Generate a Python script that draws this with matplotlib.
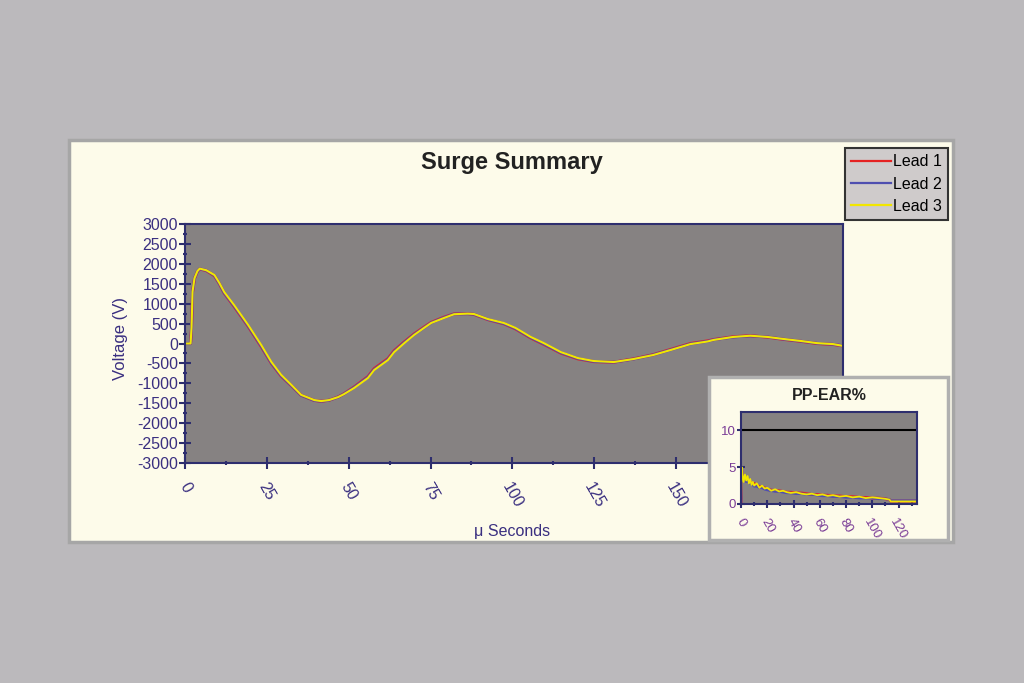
import numpy as np
import matplotlib
matplotlib.use("Agg")
import matplotlib.pyplot as plt
from matplotlib.patches import Rectangle
from matplotlib.lines import Line2D

plt.rcParams['font.family'] = ['Liberation Sans', 'DejaVu Sans']
plt.rcParams['axes.unicode_minus'] = False

# surge waveform, voltage per lead (V) vs time (us)
t_us = [0, 1.7, 2.0, 2.3, 2.9, 3.8, 4.5, 6.5, 9.0, 10.5,
        12.0, 15.0, 19.3, 23.3, 26.4, 29.4, 32.5, 35.5, 39.5, 41.6,
        44.0, 46.8, 48.6, 51.7, 53.8, 55.9, 57.8, 62.0, 63.9, 67.0,
        70.0, 73.0, 75.2, 79.1, 82.2, 86.4, 88.3, 92.5, 97.4, 101.0,
        105.6, 109.6, 114.8, 120.0, 124.9, 131.0, 137.0, 143.0, 148.3, 154.4,
        159.6, 161.5, 167.5, 172.7, 177.9, 182.7, 188.0, 193.0, 198.0, 201.0]
lead1 = [0, 0, 380, 1280, 1630, 1810, 1870, 1830, 1700, 1500,
         1260, 930, 430, -80, -500, -820, -1060, -1300, -1430, -1450,
         -1425, -1340, -1260, -1090, -960, -830, -630, -380, -180, 40,
         240, 410, 530, 660, 745, 750, 730, 600, 495, 365,
         140, -20, -240, -385, -455, -470, -385, -280, -150, 0,
         65, 100, 170, 195, 160, 105, 55, 0, -25, -60]
lead2 = [0, 0, 390, 1290, 1635, 1815, 1875, 1835, 1710, 1505,
         1270, 945, 445, -65, -490, -810, -1055, -1300, -1430, -1450,
         -1425, -1345, -1265, -1100, -975, -845, -650, -400, -200, 25,
         225, 395, 520, 650, 740, 745, 735, 605, 500, 375,
         150, -10, -230, -375, -450, -468, -392, -285, -160, -10,
         55, 95, 160, 190, 165, 110, 60, 5, -20, -55]
lead3 = [0, 0, 400, 1300, 1640, 1820, 1880, 1840, 1720, 1520,
         1290, 965, 465, -40, -465, -790, -1040, -1290, -1420, -1445,
         -1420, -1345, -1270, -1115, -990, -865, -665, -415, -215, 10,
         215, 390, 515, 640, 735, 750, 740, 615, 515, 390,
         165, 10, -215, -365, -440, -465, -390, -290, -165, -15,
         50, 90, 165, 195, 165, 115, 65, 10, -15, -60]

# PP-EAR% inset
t_ear = [0, 0.5, 1, 2, 3, 4, 5, 6, 7, 8,
         9, 10, 12, 14, 16, 18, 20, 23, 26, 29,
         32, 35, 38, 42, 46, 50, 54, 58, 62, 66,
         70, 75, 80, 85, 90, 95, 100, 105, 110, 113,
         114, 120, 126, 134]
ear1 = [0, 4.6, 3.9, 3.4, 3.6, 3.5, 3.3, 3.1, 3.0, 2.9,
        2.7, 2.8, 2.5, 2.4, 2.3, 2.2, 2.0, 1.9, 1.8, 1.8,
        1.7, 1.6, 1.6, 1.5, 1.5, 1.4, 1.3, 1.3, 1.2, 1.2,
        1.1, 1.1, 1.0, 1.0, 0.9, 0.9, 0.8, 0.8, 0.7, 0.6,
        0.4, 0.4, 0.4, 0.4]
ear2 = [0, 4.4, 4.0, 3.2, 3.4, 3.0, 3.2, 2.9, 2.8, 2.7,
        2.6, 2.4, 2.4, 2.2, 2.2, 2.0, 1.9, 1.8, 1.7, 1.7,
        1.6, 1.5, 1.5, 1.4, 1.4, 1.3, 1.3, 1.2, 1.1, 1.1,
        1.0, 1.0, 0.9, 0.9, 0.8, 0.8, 0.8, 0.7, 0.7, 0.6,
        0.45, 0.45, 0.45, 0.45]
ear3 = [0, 5.0, 4.2, 3.0, 4.0, 3.2, 3.8, 2.8, 3.4, 2.6,
        3.0, 2.5, 2.8, 2.2, 2.5, 2.1, 2.2, 1.8, 2.0, 1.7,
        1.8, 1.6, 1.5, 1.6, 1.4, 1.3, 1.4, 1.2, 1.3, 1.1,
        1.2, 1.0, 1.1, 0.9, 1.0, 0.8, 0.9, 0.8, 0.7, 0.6,
        0.35, 0.35, 0.35, 0.35]
ear_limit = 10

labels = ['Lead 1', 'Lead 2', 'Lead 3']
colors = ['#e52222', '#4f4fb0', '#f2e600']
widths = [2.2, 2.0, 1.5]

W, H = 1024, 683
navy = '#2e2e6e'
tickc = '#3a2f80'
inset_tickc = '#7a3c96'


def fx(x):
    return x / W


def fy(y):
    return 1 - y / H


fig = plt.figure(figsize=(10.24, 6.83), dpi=100)
fig.patch.set_facecolor('#bbb9bc')

# cream panel behind main chart
fig.patches.append(Rectangle((fx(69), fy(542)), fx(953 - 69), (542 - 140) / H,
                             transform=fig.transFigure, facecolor='#fdfbea',
                             edgecolor='#a6a6a6', lw=2.5, zorder=-1))

ax = fig.add_axes([fx(185), fy(463), fx(843 - 185), (463 - 224) / H])
ax.set_facecolor('#868282')
for ys, c, w in zip([lead1, lead2, lead3], colors, widths):
    ax.plot(t_us, ys, color=c, lw=w)
ax.set_xlim(0, 201)
ax.set_ylim(-3000, 3000)
ax.set_xticks(np.arange(0, 201, 25))
ax.set_xticks(np.arange(12.5, 201, 25), minor=True)
ax.set_yticks(np.arange(-3000, 3001, 500))
ax.set_yticks(np.arange(-2750, 3000, 500), minor=True)
for s in ax.spines.values():
    s.set_color(navy)
    s.set_linewidth(1.5)
ax.tick_params(which='major', direction='inout', length=8, width=1.5,
               color=navy, labelcolor=tickc, labelsize=11.5)
ax.tick_params(which='minor', direction='inout', length=3, width=1.5, color=navy)
ax.tick_params(axis='x', pad=8)
ax.tick_params(axis='y', pad=1)
for lbl in ax.get_xticklabels():
    lbl.set_rotation(-60)
    lbl.set_ha('center')
    lbl.set_va('top')
ax.set_ylabel('Voltage (V)', color=tickc, fontsize=12)
ax.yaxis.set_label_coords(-0.086, 0.52)
ax.set_xlabel('μ Seconds', color=tickc, fontsize=11.5)
ax.xaxis.set_label_coords(0.497, -0.255)

fig.text(fx(512), fy(163), 'Surge Summary', ha='center', va='center',
         fontsize=17, fontweight='bold', color='#222222')

handles = [Line2D([], [], color=c, lw=1.6) for c in colors]
leg = fig.legend(handles, labels, loc='upper right',
                 bbox_to_anchor=(fx(948), fy(148)), borderaxespad=0,
                 fontsize=11.5, handlelength=2.5, handletextpad=0.1,
                 labelspacing=0.45, fancybox=False, framealpha=1,
                 facecolor='#cfcbcb', edgecolor='#333333', borderpad=0.4)
leg.get_frame().set_linewidth(1.5)
leg.set_zorder(5)

# inset panel
fig.patches.append(Rectangle((fx(709), fy(540)), fx(948 - 709), (540 - 377) / H,
                             transform=fig.transFigure, facecolor='#fdfbea',
                             edgecolor='#b0b0b0', lw=2.5, zorder=1))
fig.text(fx(829), fy(395), 'PP-EAR%', ha='center', va='center',
         fontsize=11.5, fontweight='bold', color='#222222', zorder=3)

ax2 = fig.add_axes([fx(741), fy(504), fx(917 - 741), (504 - 412) / H])
ax2.set_zorder(2)
ax2.set_facecolor('#868282')
for ys, c, w in zip([ear1, ear2, ear3], colors, widths):
    ax2.plot(t_ear, ys, color=c, lw=w - 0.2)
ax2.axhline(ear_limit, color='black', lw=1.5)
ax2.set_xlim(0, 134)
ax2.set_ylim(0, 12.5)
ax2.set_xticks(np.arange(0, 121, 20))
ax2.set_xticks(np.arange(10, 134, 20), minor=True)
ax2.set_yticks([0, 5, 10])
for s in ax2.spines.values():
    s.set_color(navy)
    s.set_linewidth(1.5)
ax2.tick_params(which='major', direction='inout', length=6, width=1.5,
                color=navy, labelcolor=inset_tickc, labelsize=9.5)
ax2.tick_params(which='minor', direction='inout', length=2.5, width=1.5, color=navy)
ax2.tick_params(axis='x', pad=6)
ax2.tick_params(axis='y', pad=1)
for lbl in ax2.get_xticklabels():
    lbl.set_rotation(-60)
    lbl.set_ha('center')
    lbl.set_va('top')

fig.savefig('out.png', dpi=100, facecolor=fig.get_facecolor())
